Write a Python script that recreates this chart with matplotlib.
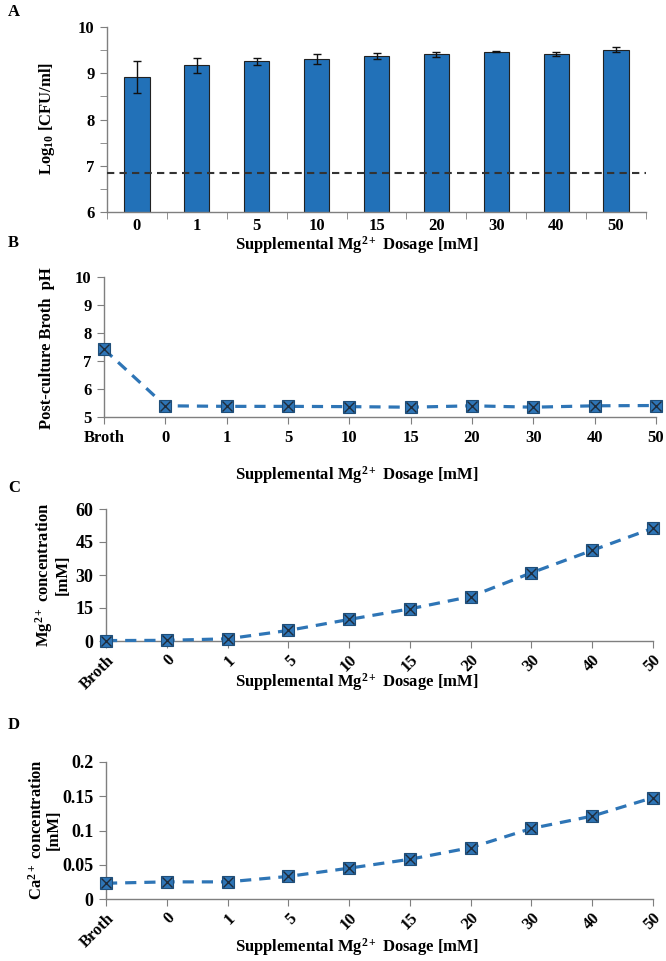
import matplotlib
matplotlib.use("Agg")
import matplotlib.pyplot as plt
from matplotlib.ticker import MultipleLocator, FixedLocator

plt.rcParams['font.family'] = ['Liberation Serif', 'DejaVu Serif']
plt.rcParams['font.weight'] = 'bold'
plt.rcParams['mathtext.fontset'] = 'custom'
plt.rcParams['mathtext.rm'] = 'Liberation Serif:bold'
plt.rcParams['mathtext.bf'] = 'Liberation Serif:bold'
plt.rcParams['mathtext.it'] = 'Liberation Serif:bold'

# panel A data
dose_labels = ['0', '1', '5', '10', '15', '20', '30', '40', '50']
log_cfu = [8.92, 9.17, 9.26, 9.31, 9.37, 9.41, 9.47, 9.41, 9.51]
log_cfu_err = [0.35, 0.16, 0.08, 0.11, 0.07, 0.05, 0.02, 0.04, 0.06]
inoculum_level = 6.85

# panels B-D data
point_labels = ['Broth', '0', '1', '5', '10', '15', '20', '30', '40', '50']
broth_ph = [7.42, 5.40, 5.38, 5.38, 5.37, 5.35, 5.40, 5.35, 5.40, 5.41]
mg_conc = [0.2, 0.3, 1.0, 4.8, 9.8, 14.6, 20.2, 31.0, 41.2, 51.3]
ca_conc = [0.023, 0.025, 0.025, 0.033, 0.045, 0.058, 0.075, 0.103, 0.121, 0.148]

W, H = 666, 961
fig = plt.figure(figsize=(W / 100, H / 100), dpi=100)

blue = '#2E75B6'
dark = '#1f2d3d'
spine_col = '#7f7f7f'
xlabel_text = 'Supplemental Mg$^{2+}$ Dosage [mM]'


def add_ax(l, r, t, b):
    return fig.add_axes([l / W, 1 - b / H, (r - l) / W, (b - t) / H])


def style(ax, fs):
    for s in ['top', 'right']:
        ax.spines[s].set_visible(False)
    for s in ['left', 'bottom']:
        ax.spines[s].set_color(spine_col)
        ax.spines[s].set_linewidth(1.0)
    ax.tick_params(which='both', direction='out', color=spine_col, labelsize=fs)
    ax.tick_params(axis='y', length=5, pad=4)


def fig_text(x, y, s, **kw):
    fig.text(x / W, 1 - y / H, s, **kw)


# ---- A ----
axA = add_ax(107, 646, 27, 212)
xs = list(range(len(dose_labels)))
axA.bar(xs, log_cfu, width=0.42, color='#2271B8', edgecolor='#222222', linewidth=0.8, zorder=2)
axA.errorbar(xs, log_cfu, yerr=log_cfu_err, fmt='none', ecolor='#111111', elinewidth=1, capsize=3, zorder=3)
axA.axhline(inoculum_level, color='#333333', linestyle=(0, (3.5, 2.5)), linewidth=1.5, zorder=4)
axA.set_xlim(-0.5, len(dose_labels) - 0.5)
axA.set_ylim(6, 10)
style(axA, 12)
axA.set_xticks(xs)
axA.set_xticklabels(dose_labels)
axA.xaxis.set_minor_locator(FixedLocator([i - 0.5 for i in range(len(dose_labels) + 1)]))
axA.tick_params(axis='x', which='major', length=0, pad=4)
axA.tick_params(axis='x', which='minor', length=5)
axA.yaxis.set_major_locator(MultipleLocator(1))
axA.yaxis.set_minor_locator(MultipleLocator(0.5))
axA.tick_params(axis='y', which='minor', length=5)
fig_text(8, 12, 'A', fontsize=12, ha='left', va='center')
fig_text(357, 245, xlabel_text, fontsize=12, ha='center', va='center')
fig_text(47, 118, 'Log$_{10}$ [CFU/ml]', fontsize=12, rotation=90, ha='center', va='center')


def line_panel(ax, values):
    px = list(range(len(point_labels)))
    ax.plot(px, values, color=blue, linestyle=(0, (3.5, 2.5)), linewidth=2.3, zorder=3, clip_on=False)
    ax.plot(px, values, linestyle='none', marker='s', markersize=8, markerfacecolor=blue,
            markeredgecolor='#1F4E79', markeredgewidth=0.8, zorder=4, clip_on=False)
    ax.plot(px, values, linestyle='none', marker='x', markersize=7, markeredgecolor=dark,
            markeredgewidth=1.0, zorder=5, clip_on=False)
    ax.set_xlim(0, len(point_labels) - 1)
    ax.set_xticks(px)


# ---- B ----
axB = add_ax(104, 656, 277, 417)
line_panel(axB, broth_ph)
axB.set_ylim(5, 10)
style(axB, 12)
axB.set_xticklabels(point_labels)
axB.tick_params(axis='x', length=5, pad=4)
axB.yaxis.set_major_locator(MultipleLocator(1))
fig_text(8, 243, 'B', fontsize=12, ha='left', va='center')
fig_text(357, 475, xlabel_text, fontsize=12, ha='center', va='center')
fig_text(47, 348, 'Post-culture Broth  pH', fontsize=12, rotation=90, ha='center', va='center')

# ---- C ----
axC = add_ax(106, 653, 509, 641)
line_panel(axC, mg_conc)
axC.set_ylim(0, 60)
style(axC, 13)
axC.set_xticklabels(point_labels, rotation=45, ha='right', rotation_mode='anchor', fontsize=12)
axC.tick_params(axis='x', length=5, pad=3)
axC.yaxis.set_major_locator(MultipleLocator(15))
fig_text(8, 488, 'C', fontsize=12, ha='left', va='center')
fig_text(357, 682, xlabel_text, fontsize=12, ha='center', va='center')
fig_text(52, 575, 'Mg$^{2+}$ concentration\n[mM]', fontsize=12, rotation=90, ha='center', va='center',
         multialignment='center', linespacing=1.0)

# ---- D ----
axD = add_ax(106, 653, 762, 899)
line_panel(axD, ca_conc)
axD.set_ylim(0, 0.2)
style(axD, 13)
axD.set_xticklabels(point_labels, rotation=45, ha='right', rotation_mode='anchor', fontsize=12)
axD.tick_params(axis='x', length=5, pad=3)
axD.set_yticks([0, 0.05, 0.1, 0.15, 0.2])
axD.set_yticklabels(['0', '0.05', '0.1', '0.15', '0.2'])
fig_text(8, 725, 'D', fontsize=12, ha='left', va='center')
fig_text(357, 947, xlabel_text, fontsize=12, ha='center', va='center')
fig_text(45, 830, 'Ca$^{2+}$ concentration\n[mM]', fontsize=12, rotation=90, ha='center', va='center',
         multialignment='center', linespacing=1.0)

fig.savefig('out.png', dpi=100)
